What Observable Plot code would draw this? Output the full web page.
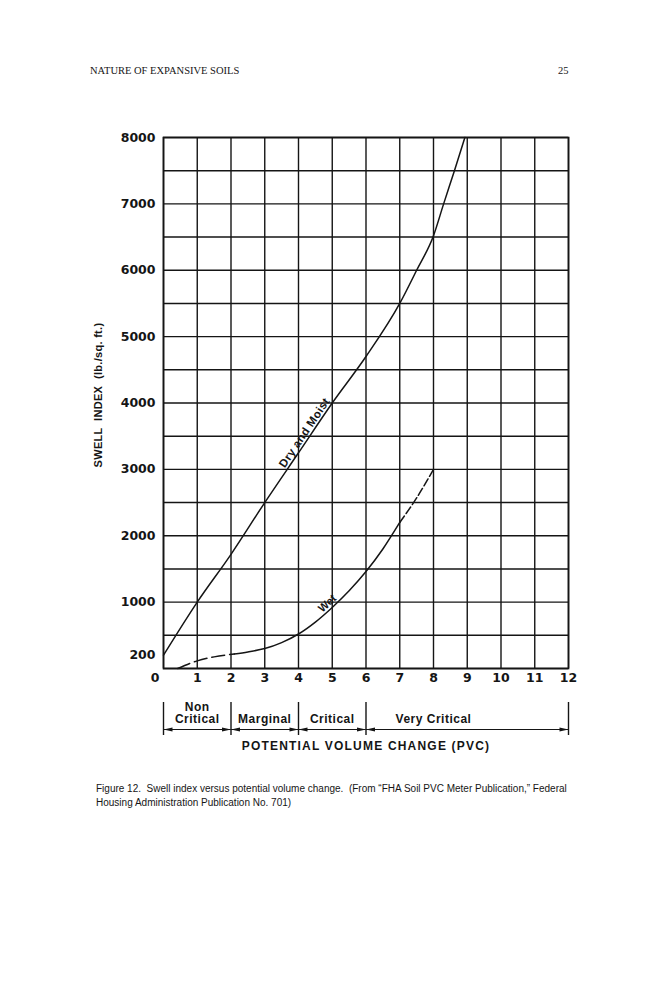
<!DOCTYPE html>
<html><head><meta charset="utf-8">
<script src="https://cdn.jsdelivr.net/npm/d3@7"></script>
<script src="https://cdn.jsdelivr.net/npm/@observablehq/plot@0.6"></script>
<style>
body{margin:0;background:#fff;}
#page{position:relative;width:666px;height:1000px;background:#fff;overflow:hidden;}
.hdr{position:absolute;top:65px;font-family:"Liberation Serif","Times New Roman",serif;font-size:10.5px;color:#161616;}
#chart{position:absolute;left:0;top:100px;}
.cap{position:absolute;left:96px;top:782px;width:490px;font-family:"Liberation Sans",Arial,sans-serif;font-size:10px;line-height:14px;color:#161616;}
</style></head><body>
<div id="page">
<div class="hdr" style="left:90px">NATURE OF EXPANSIVE SOILS</div>
<div class="hdr" style="left:558px">25</div>
<div id="chart"></div>
<div class="cap">Figure 12.&nbsp; Swell index versus potential volume change.&nbsp; (From “FHA Soil PVC Meter Publication,” Federal Housing Administration Publication No. 701)</div>
</div>
<script>
// ---- data ----
const xTicks = [1,2,3,4,5,6,7,8,9,10,11,12];
const yTicks = [200,1000,2000,3000,4000,5000,6000,7000,8000];
const xGrid = [0,1,2,3,4,5,6,7,8,9,10,11,12];
const yGrid = [0,500,1000,1500,2000,2500,3000,3500,4000,4500,5000,5500,6000,6500,7000,7500,8000];

const dryMoist = [
  {x:0,y:200},{x:1,y:1000},{x:2,y:1720},{x:3,y:2500},{x:4,y:3250},{x:5,y:4000},
  {x:6,y:4700},{x:7,y:5500},{x:7.5,y:6000},{x:8,y:6520},{x:8.3,y:7000},{x:8.62,y:7500},{x:8.93,y:8000}
];
const wetStart = [{x:0.42,y:0},{x:1,y:115},{x:1.5,y:175},{x:2.1,y:220}];
const wetMain = [
  {x:2.1,y:220},{x:2.5,y:250},{x:3,y:300},{x:3.5,y:390},{x:4,y:520},{x:4.5,y:700},
  {x:5,y:920},{x:5.5,y:1170},{x:6,y:1460},{x:6.5,y:1800},{x:7,y:2200}
];
const wetEnd = [{x:7,y:2200},{x:7.5,y:2570},{x:8,y:3000}];

const categories = [
  {name:"Non\nCritical", from:0, to:2, center:1},
  {name:"Marginal", from:2, to:4, center:3},
  {name:"Critical", from:4, to:6, center:5},
  {name:"Very Critical", from:6, to:12, center:8}
];
const categoryBounds = [0,2,4,6,12];

// ---- layout ----
const W = 666, H = 670, mT = 37, mB = 102, mL = 163, mR = 98;
const yMax = 8000;
const pxPerUnit = (H - mT - mB) / yMax;
const below = px => -px / pxPerUnit;   // pixels below the x axis, in y units

const ink = "#151515";
const tickFont = "'DejaVu Sans', sans-serif";
const labFont = "'Liberation Sans', Arial, sans-serif";

const arrowShape = {
  draw(context, l) {
    context.moveTo(0, -l);
    context.lineTo(-2, 0);
    context.lineTo(2, 0);
    context.closePath();
  }
};

const plot = Plot.plot({
  width: W, height: H,
  marginTop: mT, marginBottom: mB, marginLeft: mL, marginRight: mR,
  x: {domain: [0, 12]},
  y: {domain: [0, yMax]},
  style: {background: "transparent", color: ink},
  marks: [
    Plot.ruleX(xGrid, {stroke: ink, strokeWidth: 1.4}),
    Plot.ruleY(yGrid, {stroke: ink, strokeWidth: 1.4}),
    Plot.frame({stroke: ink, strokeWidth: 1.7}),
    Plot.axisX(xTicks, {tickSize: 0, tickPadding: 5, tickFormat: d => String(d), fontSize: 12.5, fontWeight: "bold", fontFamily: tickFont, label: null}),
    Plot.axisY(yTicks, {tickSize: 0, tickPadding: 8, tickFormat: d => String(d), fontSize: 12.5, fontWeight: "bold", fontFamily: tickFont, label: null}),
    Plot.axisY([0], {tickSize: 0, tickPadding: 4, dy: 9, tickFormat: d => String(d), fontSize: 12.5, fontWeight: "bold", fontFamily: tickFont, label: null}),
    Plot.line(dryMoist, {x: "x", y: "y", curve: "monotone-x", stroke: ink, strokeWidth: 1.5}),
    Plot.line(wetStart, {x: "x", y: "y", curve: "monotone-x", stroke: ink, strokeWidth: 1.5, strokeDasharray: "13,5"}),
    Plot.line(wetMain, {x: "x", y: "y", curve: "monotone-x", stroke: ink, strokeWidth: 1.5}),
    Plot.line(wetEnd, {x: "x", y: "y", curve: "monotone-x", stroke: ink, strokeWidth: 1.5, strokeDasharray: "8,3"}),
    Plot.text([dryMoist[4]], {x: "x", y: "y", text: () => "Dry and Moist", rotate: -56, dx: 6, dy: -20,
      fontSize: 11.5, fontWeight: "bold", fontFamily: labFont, fill: ink}),
    Plot.text([wetMain[6]], {x: "x", y: "y", text: () => "Wet", rotate: -42, dx: -5, dy: -4,
      fontSize: 11, fontWeight: "bold", fontFamily: labFont, fill: ink}),
    // PVC category brackets
    Plot.ruleX(categoryBounds, {y1: () => below(34), y2: () => below(67), stroke: ink, strokeWidth: 1.4}),
    Plot.ruleY(categories, {x1: "from", x2: "to", y: () => below(61), stroke: ink, strokeWidth: 1.2}),
    Plot.vector(categories, {x: "from", y: () => below(61), rotate: -90, length: 9, anchor: "end", shape: arrowShape, fill: ink, stroke: "none"}),
    Plot.vector(categories, {x: "to", y: () => below(61), rotate: 90, length: 9, anchor: "end", shape: arrowShape, fill: ink, stroke: "none"}),
    Plot.text(categories, {x: "center", y: () => below(54), text: "name", lineAnchor: "bottom", lineHeight: 1.0,
      fontSize: 12, fontWeight: "bold", fontFamily: labFont, fill: ink}),
    Plot.text(["POTENTIAL VOLUME CHANGE (PVC)"], {frameAnchor: "bottom", dy: 81, text: d => d,
      fontSize: 12, fontWeight: "bold", fontFamily: labFont, fill: ink}),
    Plot.text(["SWELL  INDEX  (lb./sq. ft.)"], {frameAnchor: "left", textAnchor: "middle", dx: -65, dy: -8, rotate: -90, text: d => d,
      fontSize: 11, fontWeight: "bold", fontFamily: labFont, fill: ink})
  ]
});

plot.querySelectorAll("text").forEach(t => {
  const s = t.textContent;
  if (s.startsWith("POTENTIAL")) t.style.letterSpacing = "1.2px";
  else if (s.startsWith("SWELL")) { t.style.letterSpacing = "0.3px"; t.style.whiteSpace = "pre"; }
  else if (s.startsWith("Dry")) t.style.letterSpacing = "0.4px";
  else if (s.startsWith("Very") || s.startsWith("Marg") || s === "Critical" || s.startsWith("Non")) t.style.letterSpacing = "0.5px";
});
document.getElementById("chart").appendChild(plot);
</script>
</body></html>
